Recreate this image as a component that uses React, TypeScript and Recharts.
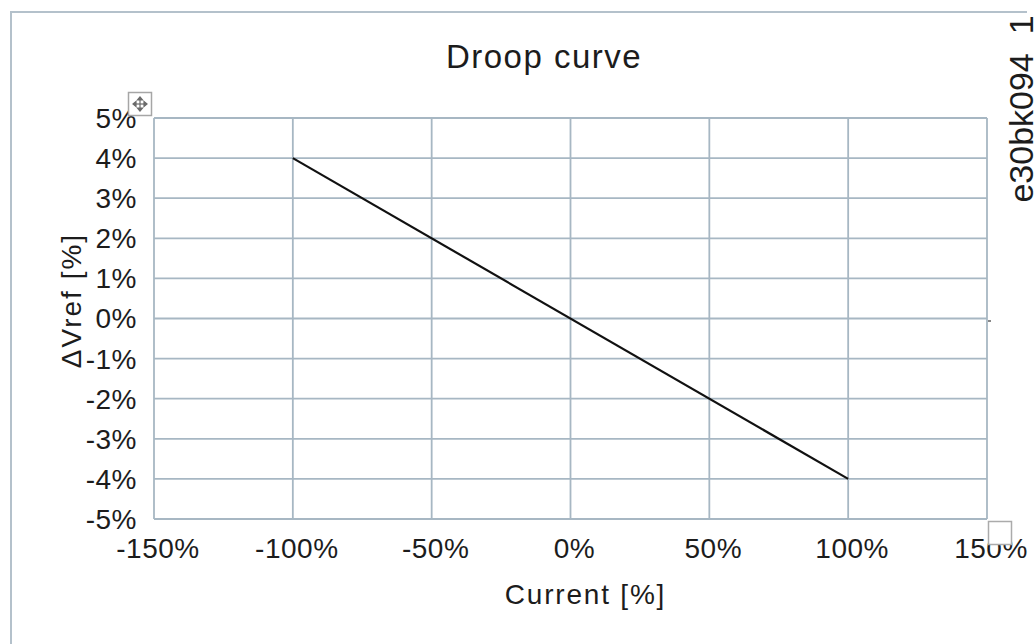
import React from "react";
import {
  LineChart,
  Line,
  XAxis,
  YAxis,
  CartesianGrid,
  Label,
} from "recharts";

// droop characteristic
const currentPct = [-100, 100];
const deltaVrefPct = [4, -4];

const xTicks = [-150, -100, -50, 0, 50, 100, 150];
const yTicks = [-5, -4, -3, -2, -1, 0, 1, 2, 3, 4, 5];

const data = currentPct.map((c, i) => ({ current: c, dv: deltaVrefPct[i] }));

const FONT = "'Liberation Sans', Arial, sans-serif";
const GRID = "#a7b7c3";
const INK = "#1c1c1c";

const tickStyle = {
  fill: INK,
  fontSize: 28,
  fontFamily: FONT,
  letterSpacing: 0.5,
};

export default function App() {
  return (
    <div
      style={{
        position: "absolute",
        left: 0,
        top: 0,
        width: 1035,
        height: 644,
        overflow: "hidden",
        background: "#fff",
      }}
    >
      {/* frame of the embedded chart object */}
      <div
        style={{
          position: "absolute",
          left: 10,
          top: 11,
          width: 1015,
          height: 700,
          borderTop: "2px solid #b4c1cb",
          borderLeft: "2px solid #b4c1cb",
        }}
      />
      <LineChart
        width={1035}
        height={644}
        data={data}
        margin={{ top: 118, right: 48, bottom: 0, left: 0 }}
        style={{ position: "absolute", left: 0, top: 0 }}
      >
        <CartesianGrid stroke={GRID} strokeWidth={1.8} />
        <XAxis
          type="number"
          dataKey="current"
          domain={[-150, 150]}
          ticks={xTicks}
          tickFormatter={(v: number) => `${v}%`}
          height={125}
          axisLine={false}
          tickLine={false}
          tickMargin={13}
          tick={{ ...tickStyle, dx: 4 }}
        >
          <Label
            content={({ viewBox }: any) => (
              <text
                x={viewBox.x + viewBox.width / 2 + 15}
                y={viewBox.y + 85}
                textAnchor="middle"
                fill={INK}
                fontSize={28}
                fontFamily={FONT}
                letterSpacing={1.8}
              >
                Current [%]
              </text>
            )}
          />
        </XAxis>
        <YAxis
          type="number"
          domain={[-5, 5]}
          ticks={yTicks}
          tickFormatter={(v: number) => `${v}%`}
          width={154}
          axisLine={false}
          tickLine={false}
          tickMargin={11}
          tick={tickStyle}
        >
          <Label
            content={({ viewBox }: any) => {
              const cx = 81;
              const cy = viewBox.y + viewBox.height / 2 - 18;
              return (
                <text
                  x={cx}
                  y={cy}
                  transform={`rotate(-90 ${cx} ${cy})`}
                  textAnchor="middle"
                  fill={INK}
                  fontSize={28}
                  fontFamily={FONT}
                  letterSpacing={2}
                >
                  ΔVref [%]
                </text>
              );
            }}
          />
        </YAxis>
        <Line
          type="linear"
          dataKey="dv"
          stroke="#111"
          strokeWidth={2.2}
          dot={false}
          isAnimationActive={false}
        />
      </LineChart>

      {/* title, document reference and Word handles */}
      <svg
        width={1035}
        height={644}
        style={{ position: "absolute", left: 0, top: 0, pointerEvents: "none" }}
      >
        <text
          x={544}
          y={68}
          textAnchor="middle"
          fill={INK}
          fontSize={33}
          fontFamily={FONT}
          letterSpacing={1.5}
        >
          Droop curve
        </text>
        <text
          x={1033}
          y={109}
          transform="rotate(-90 1033 109)"
          textAnchor="middle"
          fill={INK}
          fontSize={34}
          fontFamily={FONT}
        >
          e30bk094_1
        </text>
        <g>
          <rect x={128.5} y={92.5} width={23} height={23} fill="#fff" stroke="#a6a6a6" strokeWidth={1.5} />
          <g stroke="#6b6b6b" strokeWidth={1.2} fill="#6b6b6b">
            <line x1={133} y1={104} x2={147} y2={104} />
            <line x1={140} y1={97} x2={140} y2={111} />
            <path d="M133 104 l3 -2.5 v5 z" />
            <path d="M147 104 l-3 -2.5 v5 z" />
            <path d="M140 97 l-2.5 3 h5 z" />
            <path d="M140 111 l-2.5 -3 h5 z" />
          </g>
        </g>
        <rect x={988.5} y={521.5} width={23} height={23} fill="#fff" stroke="#ababab" strokeWidth={1.5} />
        <rect x={988} y={320} width={3} height={2} fill="#888" />
      </svg>
    </div>
  );
}
